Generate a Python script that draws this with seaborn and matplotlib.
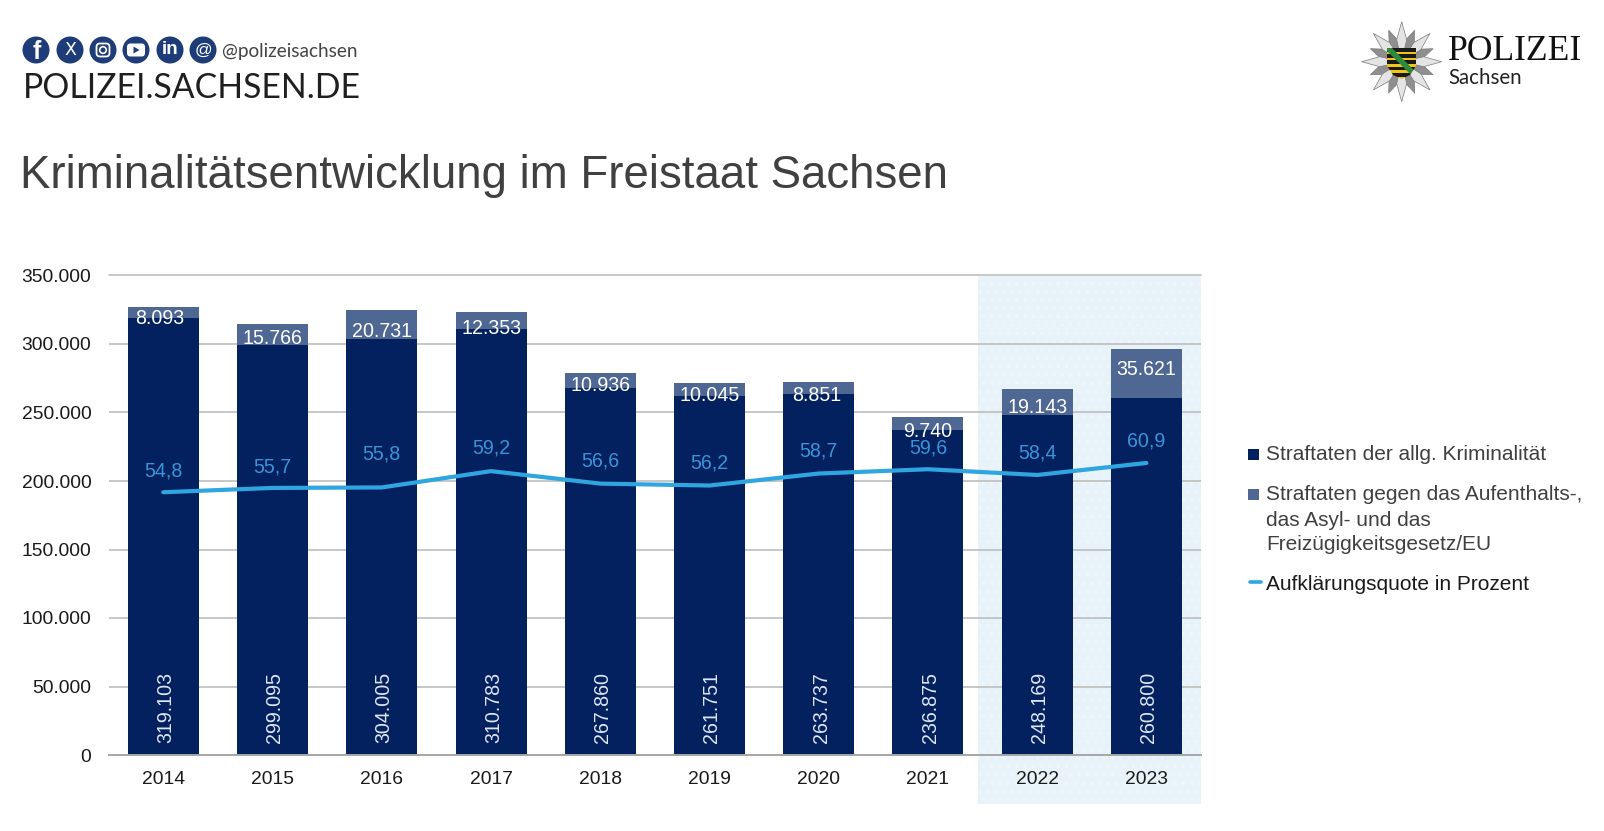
import matplotlib
matplotlib.use('Agg')
import matplotlib.pyplot as plt
import seaborn as sns
import numpy as np
import pandas as pd
from matplotlib.patches import Rectangle, Circle, Polygon, FancyBboxPatch

# Values
years = ['2014', '2015', '2016', '2017', '2018', '2019', '2020', '2021', '2022', '2023']
allg_krim = [319103, 299095, 304005, 310783, 267860, 261751, 263737, 236875, 248169, 260800]
aufenthalt = [8093, 15766, 20731, 12353, 10936, 10045, 8851, 9740, 19143, 35621]
quote = [54.8, 55.7, 55.8, 59.2, 56.6, 56.2, 58.7, 59.6, 58.4, 60.9]
y_ticks = [0, 50000, 100000, 150000, 200000, 250000, 300000, 350000]
y_labels = ['0', '50.000', '100.000', '150.000', '200.000', '250.000', '300.000', '350.000']

# the labels were placed by hand in the original, so nudge them (pixels)
label_shift = [5.9, 4.3, 7.4, 7.5, 5.3, 5.8, 7.7, 7.2, 5.3, -4]
label_dx = [-4, 0, 0, 0, 0, 0, -2, 0, 0, 0]
quote_shift = [21, 21, 33, 23, 22.5, 22.5, 22.5, 21.5, 21.5, 22]

NAVY = '#03205f'
SLATE = '#4f6893'
LINE = '#2fa6e0'
LINE_TXT = '#3a94d8'
ICON = '#1d3c78'
W, H = 1604, 831

sns.set_theme(style='white')
plt.rcParams['font.family'] = ['Liberation Sans', 'DejaVu Sans']
plt.rcParams['hatch.linewidth'] = 0.8

df = pd.DataFrame({'jahr': years, 'allg': allg_krim, 'auf': aufenthalt})

fig = plt.figure(figsize=(W / 100, H / 100), dpi=100, facecolor='white')

# Chart axes, placed by pixel
ax_l, ax_r, ax_t, ax_b = 108.7, 1201, 275.5, 755
ax = fig.add_axes([ax_l / W, 1 - ax_b / H, (ax_r - ax_l) / W, (ax_b - ax_t) / H])
ax.patch.set_alpha(0)

# Overlay in pixel coordinates for header, title, legend
ov = fig.add_axes([0, 0, 1, 1], zorder=5)
ov.set_xlim(0, W)
ov.set_ylim(H, 0)
ov.set_axis_off()

# Highlight panel behind 2022/2023
ax.add_patch(Rectangle((978, ax_t), ax_r - 978, 804 - ax_t, transform=ov.transData,
                       facecolor='#e8f2f9', edgecolor='#f0f6fb', hatch='..', lw=0,
                       clip_on=False, zorder=0))

sns.barplot(data=df, x='jahr', y='allg', color=NAVY, width=0.65, saturation=1, ax=ax,
            zorder=2, linewidth=0, edgecolor='none')
sns.barplot(data=df, x='jahr', y='auf', bottom=df['allg'], color=SLATE, width=0.65,
            saturation=1, ax=ax, zorder=2, linewidth=0, edgecolor='none')

ax.set_xlim(-0.5, 9.5)
ax.set_ylim(0, 350000)
ax.set_xlabel('')
ax.set_ylabel('')
ax.set_yticks(y_ticks, y_labels)
ax.tick_params(axis='y', length=0, pad=12.5, labelsize=13.9, labelcolor='#1a1a1a')
ax.tick_params(axis='x', length=0, pad=11.5, labelsize=13.9, labelcolor='#1a1a1a')
ax.yaxis.grid(True, color='#bdbdbd', lw=1.2, zorder=1)
ax.axhline(350000, color='#bdbdbd', lw=1.2, clip_on=False, zorder=1)
ax.set_axisbelow(True)
sns.despine(ax=ax, left=True, top=True, right=True)
ax.spines['bottom'].set_color('#a6a6a6')
ax.spines['bottom'].set_linewidth(1.4)

# Clearance rate on a hidden second axis
ax2 = ax.twinx()
ax2.set_axis_off()
sns.lineplot(x=np.arange(len(years)), y=quote, color=LINE, linewidth=3, ax=ax2,
             solid_capstyle='round', errorbar=None)
ax2.set_ylim(0, 100)
ax2.set_xlim(-0.5, 9.5)

for i, (a, b, q) in enumerate(zip(allg_krim, aufenthalt, quote)):
    ax2.annotate(f'{a:,}'.replace(',', '.'), (i, 0), xytext=(2.4 * 0.72, 12 * 0.72),
                 textcoords='offset points', xycoords=ax.transData, rotation=90,
                 ha='center', va='bottom', color='#dde6f3', fontsize=14.1)
    ax2.annotate(f'{b:,}'.replace(',', '.'), (i, a + b / 2),
                 xytext=(label_dx[i] * 0.72, -label_shift[i] * 0.72),
                 textcoords='offset points', xycoords=ax.transData, ha='center', va='center',
                 color='white', fontsize=14.1)
    ax2.annotate(f'{q:.1f}'.replace('.', ','), (i, q), xytext=(0, quote_shift[i] * 0.72),
                 textcoords='offset points', ha='center', va='center',
                 color=LINE_TXT, fontsize=14.1)

# Title
ov.text(20.5, 176, 'Kriminalitätsentwicklung im Freistaat Sachsen', fontsize=32.85,
        color='#404040', va='center', ha='left')

# Legend
ov.add_patch(Rectangle((1248, 448.5), 11, 11, color=NAVY, lw=0))
ov.add_patch(Rectangle((1248, 488.5), 11, 11, color=SLATE, lw=0))
ov.plot([1249.5, 1261], [582, 582], color=LINE, lw=2.6, solid_capstyle='round')
ov.text(1266, 459.5, 'Straftaten der allg. Kriminalität', fontsize=15, color='#404040', va='baseline')
for yy, txt in zip([499.5, 525.5, 550], ['Straftaten gegen das Aufenthalts-,', 'das Asyl- und das',
                                         'Freizügigkeitsgesetz/EU']):
    ov.text(1266, yy, txt, fontsize=15, color='#404040', va='baseline')
ov.text(1266, 589.5, 'Aufklärungsquote in Prozent', fontsize=15, color='#1a1a1a', va='baseline')

# Header left: social icons
icon_x = [36, 70, 103, 136, 170, 203]
for cx in icon_x:
    ov.add_patch(Circle((cx, 50), 13.5, color=ICON, lw=0))
ov.text(36.5, 52, 'f', color='white', fontsize=18, fontweight='bold', ha='center', va='center')
ov.text(70, 50, 'X', color='white', fontsize=12.5, ha='center', va='center', family='DejaVu Sans')
ov.add_patch(FancyBboxPatch((96.5, 43.5), 13, 13, boxstyle='round,pad=0,rounding_size=3.5',
                            fc='none', ec='white', lw=1.3))
ov.add_patch(Circle((103, 50), 3.3, fc='none', ec='white', lw=1.2))
ov.add_patch(FancyBboxPatch((127, 43.5), 18, 13, boxstyle='round,pad=0,rounding_size=3.5',
                            fc='white', ec='none'))
ov.add_patch(Polygon([[133.5, 46.5], [133.5, 53.5], [139.5, 50]], color=ICON, lw=0))
ov.text(170, 50, 'in', color='white', fontsize=13.5, fontweight='bold', ha='center', va='center')
ov.text(203, 50, '@', color='white', fontsize=12.5, ha='center', va='center')
ov.text(222, 51, '@polizeisachsen', fontsize=13.7, color='#444444', va='center', family='Lato')
ov.text(23, 88, 'POLIZEI.SACHSEN.DE', fontsize=24.3, color='#1f1f1f', va='center', family='Lato')

# Header right: star and shield
sx, sy = 1401.7, 61.7
c = np.array([sx, sy])
for k in list(range(1, 16, 2)) + list(range(0, 16, 2)):
    ang = np.deg2rad(k * 22.5)
    r = 40 if k % 2 == 0 else 34
    wd = 5 if k % 2 == 0 else 4.5
    d = np.array([np.sin(ang), -np.cos(ang)])
    n = np.array([d[1], -d[0]])
    ov.add_patch(Polygon([c, c + d * 22 + n * wd, c + d * r, c + d * 22 - n * wd],
                         fc='#e4e4e4' if k % 2 == 0 else '#8f8f8f', ec='#7a7a7a', lw=0.5))
shield = Polygon([[1387, 48], [1416, 48], [1416, 66], [1410, 75], [1401.5, 79], [1393, 75], [1387, 66]],
                 fc='#f0c419', ec='none')
ov.add_patch(shield)
for yy in [48, 54.2, 60.4, 66.6, 72.8]:
    stripe = Rectangle((1387, yy), 29, 3.8, color='#1a1a1a', lw=0)
    ov.add_patch(stripe)
    stripe.set_clip_path(shield)
band = ov.plot([1388, 1415], [48, 75], color='#2e8b3d', lw=4)[0]
band.set_clip_path(shield)
ov.set_xlim(0, W)
ov.set_ylim(H, 0)
ov.text(1448, 51, 'POLIZEI', fontsize=25.6, color='#111111', va='center', family='Liberation Serif')
ov.text(1448, 78, 'Sachsen', fontsize=14.8, color='#222222', va='center', family='Lato')

fig.savefig('out.png', dpi=100, facecolor='white')
